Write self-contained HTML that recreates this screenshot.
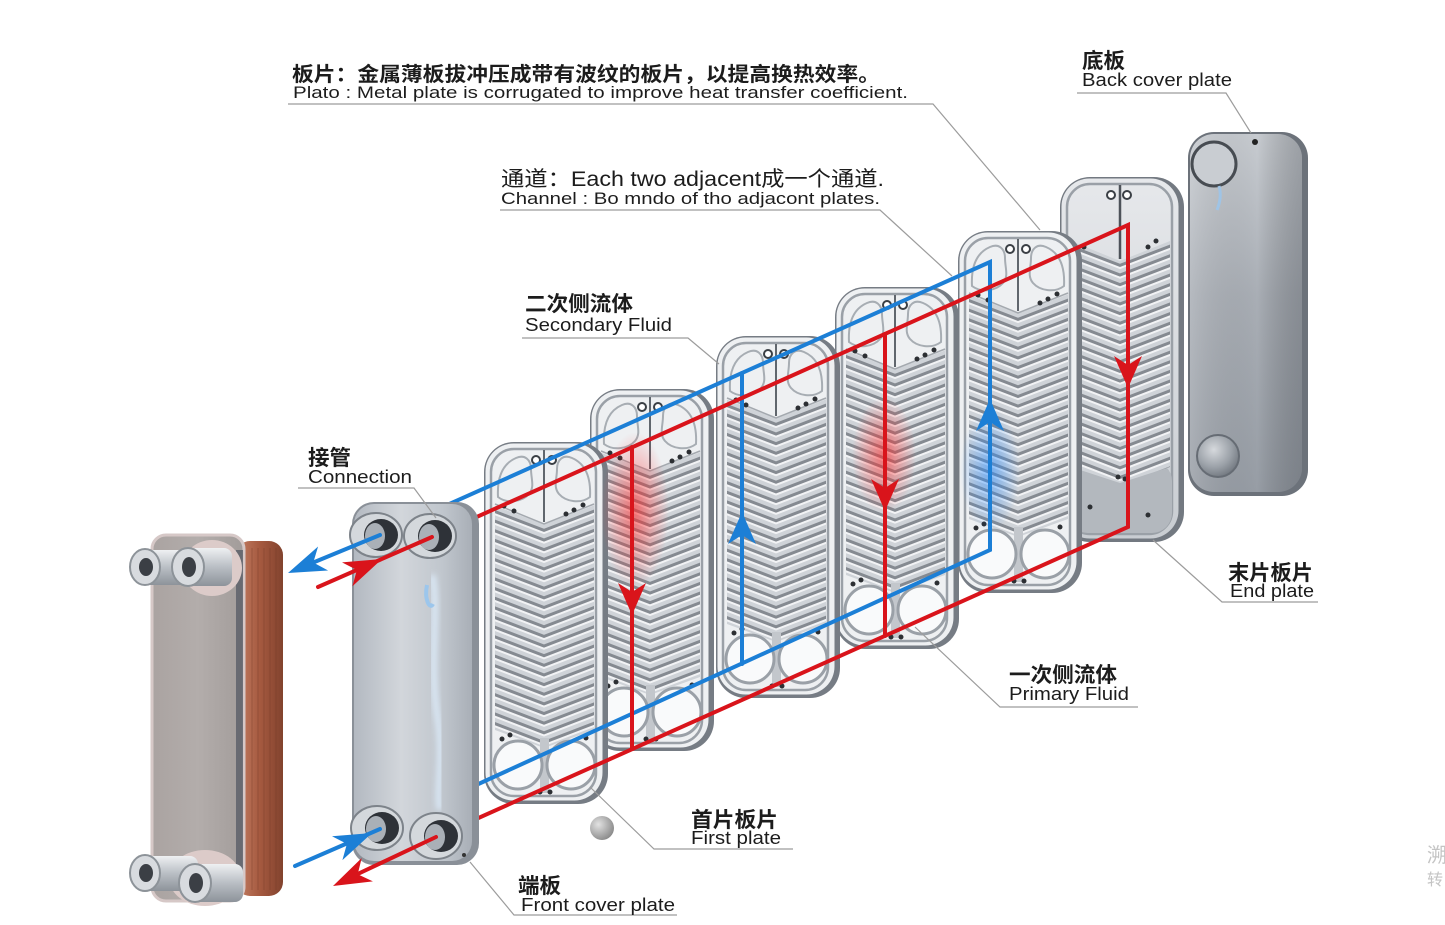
<!DOCTYPE html>
<html>
<head>
<meta charset="utf-8">
<style>
html,body{margin:0;padding:0;background:#fff;}
svg{display:block;}
text{font-family:"Liberation Sans","Noto Sans CJK SC",sans-serif;}
</style>
</head>
<body>
<svg width="1445" height="925" viewBox="0 0 1445 925" xmlns="http://www.w3.org/2000/svg">
<defs>
  <pattern id="chevL" patternUnits="userSpaceOnUse" width="40" height="9" patternTransform="rotate(21 60 0)">
    <rect width="40" height="9" fill="#cfd3d8"/>
    <rect y="0" width="40" height="3" fill="#858a91"/>
    <rect y="3" width="40" height="2" fill="#f2f3f5"/>
  </pattern>
  <pattern id="chevR" patternUnits="userSpaceOnUse" width="40" height="9" patternTransform="rotate(-21 60 0)">
    <rect width="40" height="9" fill="#cfd3d8"/>
    <rect y="0" width="40" height="3" fill="#858a91"/>
    <rect y="3" width="40" height="2" fill="#f2f3f5"/>
  </pattern>
  <clipPath id="chevClip" clipPathUnits="userSpaceOnUse">
    <polygon points="11,62 60,82 110,62 110,288 60,306 11,288"/>
  </clipPath>
  <clipPath id="chevClip6" clipPathUnits="userSpaceOnUse">
    <polygon points="11,64 60,84 110,64 110,290 60,306 11,290"/>
  </clipPath>
  <radialGradient id="redGlow">
    <stop offset="0" stop-color="#ff2a2a" stop-opacity="0.6"/>
    <stop offset="1" stop-color="#ff2a2a" stop-opacity="0"/>
  </radialGradient>
  <radialGradient id="blueGlow">
    <stop offset="0" stop-color="#2a8cff" stop-opacity="0.55"/>
    <stop offset="1" stop-color="#2a8cff" stop-opacity="0"/>
  </radialGradient>
  <linearGradient id="bcGrad" x1="0" y1="0" x2="0" y2="1">
    <stop offset="0" stop-color="#c7cbd0"/>
    <stop offset="0.45" stop-color="#a9aeb5"/>
    <stop offset="1" stop-color="#979da5"/>
  </linearGradient>
  <linearGradient id="bcShade" x1="0" y1="0" x2="1" y2="0">
    <stop offset="0" stop-color="#ffffff" stop-opacity="0.15"/>
    <stop offset="0.6" stop-color="#000000" stop-opacity="0"/>
    <stop offset="1" stop-color="#3a3f46" stop-opacity="0.3"/>
  </linearGradient>
  <radialGradient id="bossGrad" cx="0.4" cy="0.35" r="0.7">
    <stop offset="0" stop-color="#d6d9dd"/>
    <stop offset="0.6" stop-color="#9ba1a8"/>
    <stop offset="1" stop-color="#6e747c"/>
  </radialGradient>
  <linearGradient id="fcGrad" x1="0" y1="0" x2="1" y2="0">
    <stop offset="0" stop-color="#b3b9c1"/>
    <stop offset="0.4" stop-color="#d2d6db"/>
    <stop offset="0.75" stop-color="#c0c6cd"/>
    <stop offset="1" stop-color="#a9afb7"/>
  </linearGradient>
  <linearGradient id="brushLight" x1="0" y1="0" x2="0" y2="1">
    <stop offset="0" stop-color="#e6e8eb"/>
    <stop offset="1" stop-color="#c9cdd2"/>
  </linearGradient>
  <linearGradient id="faceG" x1="0" y1="0" x2="1" y2="0">
    <stop offset="0" stop-color="#aaa3a1"/>
    <stop offset="0.5" stop-color="#b3adab"/>
    <stop offset="1" stop-color="#a29c9a"/>
  </linearGradient>
  <linearGradient id="copper" x1="0" y1="0" x2="1" y2="0">
    <stop offset="0" stop-color="#c48066"/>
    <stop offset="0.5" stop-color="#a65a40"/>
    <stop offset="1" stop-color="#82432e"/>
  </linearGradient>
  <linearGradient id="pipeG" x1="0" y1="0" x2="0" y2="1">
    <stop offset="0" stop-color="#eef0f2"/>
    <stop offset="0.5" stop-color="#b9bec4"/>
    <stop offset="1" stop-color="#8d939a"/>
  </linearGradient>
  <radialGradient id="ballG" cx="0.35" cy="0.35" r="0.7">
    <stop offset="0" stop-color="#e2e2e2"/>
    <stop offset="1" stop-color="#8a8a8a"/>
  </radialGradient>
  <filter id="blur3"><feGaussianBlur stdDeviation="3"/></filter>

  <g id="plate">
    <rect x="0" y="0" width="124" height="362" rx="30" fill="#767c84"/>
    <rect x="1.5" y="1.5" width="117" height="357" rx="28" fill="#eef0f2"/>
    <rect x="7" y="7" width="105" height="347" rx="23" fill="none" stroke="#9aa0a7" stroke-width="2.5"/>
    <g clip-path="url(#chevClip)">
      <rect x="0" y="40" width="60" height="290" fill="url(#chevL)"/>
      <rect x="60" y="40" width="64" height="290" fill="url(#chevR)"/>
    </g>
    <path d="M11,62 L60,82 L110,62" fill="none" stroke="#a4a9af" stroke-width="1.5"/>
    <path d="M14,55 C13,36 18,22 32,16 C41,12 47,18 47,27 C47,37 51,45 45,52 C38,60 23,62 14,55 Z" fill="none" stroke="#a7adb3" stroke-width="2"/>
    <path d="M106,55 C107,36 102,22 88,16 C79,12 73,18 73,27 C73,37 69,45 75,52 C82,60 97,62 106,55 Z" fill="none" stroke="#a7adb3" stroke-width="2"/>
    <line x1="60" y1="8" x2="60" y2="80" stroke="#60666d" stroke-width="2"/>
    <circle cx="52" cy="18" r="4" fill="#fff" stroke="#3a3f45" stroke-width="2"/>
    <circle cx="68" cy="18" r="4" fill="#fff" stroke="#3a3f45" stroke-width="2"/>
    <circle cx="20" cy="64" r="2.5" fill="#2c2f33"/>
    <circle cx="30" cy="69" r="2.5" fill="#2c2f33"/>
    <circle cx="90" cy="68" r="2.5" fill="#2c2f33"/>
    <circle cx="99" cy="63" r="2.5" fill="#2c2f33"/>
    <circle cx="82" cy="72" r="2.5" fill="#2c2f33"/>
    <rect x="56" y="296" width="9" height="55" fill="#c3c7cc"/>
    <circle cx="34" cy="323" r="24" fill="#f9fafb" stroke="#9aa0a7" stroke-width="3"/>
    <circle cx="87" cy="323" r="24" fill="#f9fafb" stroke="#9aa0a7" stroke-width="3"/>
    <circle cx="18" cy="297" r="2.5" fill="#2c2f33"/>
    <circle cx="26" cy="293" r="2.5" fill="#2c2f33"/>
    <circle cx="102" cy="296" r="2.5" fill="#2c2f33"/>
    <circle cx="56" cy="350" r="2.5" fill="#2c2f33"/>
    <circle cx="66" cy="350" r="2.5" fill="#2c2f33"/>
  </g>
</defs>

<rect width="1445" height="925" fill="#ffffff"/>

<!-- Back cover plate -->
<rect x="1188" y="132" width="120" height="364" rx="26" fill="#6c727a"/>
<rect x="1190" y="134" width="112" height="358" rx="24" fill="url(#bcGrad)"/>
<rect x="1190" y="134" width="112" height="358" rx="24" fill="url(#bcShade)"/>
<circle cx="1214" cy="164" r="22" fill="#c9cdd2" stroke="#474c52" stroke-width="3"/>
<circle cx="1255" cy="142" r="3" fill="#222"/>
<path d="M1219,186 C1222,196 1219,205 1217,210" stroke="#9fc4e6" stroke-width="3" fill="none"/>
<circle cx="1218" cy="456" r="21" fill="url(#bossGrad)" stroke="#666c74" stroke-width="2"/>

<!-- End plate P6 -->
<g transform="translate(1060,177)">
  <rect x="0" y="0" width="124" height="365" rx="30" fill="#737981"/>
  <rect x="1.5" y="1.5" width="117" height="360" rx="28" fill="url(#brushLight)"/>
  <rect x="7" y="7" width="105" height="350" rx="23" fill="none" stroke="#9aa0a7" stroke-width="2.5"/>
  <rect x="8" y="284" width="104" height="72" rx="20" fill="#b3b8be"/>
  <g clip-path="url(#chevClip6)">
    <rect x="0" y="40" width="60" height="290" fill="url(#chevL)"/>
    <rect x="60" y="40" width="64" height="290" fill="url(#chevR)"/>
  </g>
  <line x1="60" y1="8" x2="60" y2="82" stroke="#4d5259" stroke-width="2.5"/>
  <circle cx="51" cy="18" r="4" fill="#fff" stroke="#3a3f45" stroke-width="2"/>
  <circle cx="67" cy="18" r="4" fill="#fff" stroke="#3a3f45" stroke-width="2"/>
  <circle cx="24" cy="70" r="2.5" fill="#2c2f33"/>
  <circle cx="96" cy="64" r="2.5" fill="#2c2f33"/>
  <circle cx="88" cy="70" r="2.5" fill="#2c2f33"/>
  <circle cx="58" cy="300" r="2.5" fill="#2c2f33"/>
  <circle cx="65" cy="302" r="2.5" fill="#2c2f33"/>
  <circle cx="30" cy="330" r="2.5" fill="#2c2f33"/>
  <circle cx="88" cy="338" r="2.5" fill="#2c2f33"/>
</g>

<!-- Plates P5..P1 -->
<use href="#plate" transform="translate(958,231)"/>
<use href="#plate" transform="translate(835,287)"/>
<use href="#plate" transform="translate(716,336)"/>
<use href="#plate" transform="translate(590,389)"/>
<use href="#plate" transform="translate(484,442)"/>

<!-- glows -->
<ellipse cx="635" cy="510" rx="34" ry="78" fill="url(#redGlow)"/>
<ellipse cx="884" cy="455" rx="32" ry="58" fill="url(#redGlow)"/>
<ellipse cx="990" cy="470" rx="30" ry="62" fill="url(#blueGlow)"/>

<!-- flow lines -->
<g stroke-width="4" stroke-linecap="round" fill="none">
  <polyline points="380,535 990,262 990,550 380,829" stroke="#1c7fd6"/>
  <line x1="742" y1="373" x2="742" y2="664" stroke="#1c7fd6"/>
  <polyline points="432,537 1128,225 1128,527 436,837" stroke="#d9141b"/>
  <line x1="632" y1="447" x2="632" y2="749" stroke="#d9141b"/>
  <line x1="885" y1="334" x2="885" y2="636" stroke="#d9141b"/>
</g>
<polygon points="632,615 618,583 632,592 646,583" fill="#d9141b"/>
<polygon points="742,512 728,544 742,535 756,544" fill="#1c7fd6"/>
<polygon points="885,511 871,479 885,488 899,479" fill="#d9141b"/>
<polygon points="990,399 976,431 990,422 1004,431" fill="#1c7fd6"/>
<polygon points="1128,388 1114,356 1128,365 1142,356" fill="#d9141b"/>

<!-- Front cover plate -->
<rect x="352" y="502" width="127" height="363" rx="22" fill="#8a9098"/>
<rect x="354" y="504" width="118" height="357" rx="20" fill="url(#fcGrad)"/>
<path d="M432,575 C440,610 428,660 438,720 C444,760 436,790 440,810" stroke="#dbe9f7" stroke-width="7" fill="none" filter="url(#blur3)" opacity="0.9"/>
<path d="M427,585 C424,600 430,610 433,604" stroke="#9cc6ec" stroke-width="4" fill="none"/>
<g>
  <ellipse cx="376" cy="535" rx="26" ry="22" fill="#d4d8dc" stroke="#7d838a" stroke-width="2"/>
  <ellipse cx="381" cy="535" rx="17" ry="16" fill="#2e3238"/>
  <ellipse cx="375" cy="536" rx="10" ry="13" fill="#aab0b7"/>
  <ellipse cx="430" cy="536" rx="26" ry="22" fill="#d4d8dc" stroke="#7d838a" stroke-width="2"/>
  <ellipse cx="435" cy="536" rx="17" ry="16" fill="#2e3238"/>
  <ellipse cx="429" cy="537" rx="10" ry="13" fill="#aab0b7"/>
  <ellipse cx="377" cy="828" rx="26" ry="22" fill="#d4d8dc" stroke="#7d838a" stroke-width="2"/>
  <ellipse cx="382" cy="828" rx="17" ry="16" fill="#2e3238"/>
  <ellipse cx="376" cy="829" rx="10" ry="13" fill="#aab0b7"/>
  <ellipse cx="436" cy="836" rx="26" ry="23" fill="#d4d8dc" stroke="#7d838a" stroke-width="2"/>
  <ellipse cx="441" cy="836" rx="17" ry="16" fill="#2e3238"/>
  <ellipse cx="435" cy="837" rx="10" ry="13" fill="#aab0b7"/>
</g>
<circle cx="464" cy="855" r="2" fill="#333"/>

<!-- connection arrows -->
<g stroke-width="4" stroke-linecap="round" fill="none">
  <line x1="380" y1="535" x2="300" y2="568" stroke="#1c7fd6"/>
  <line x1="432" y1="537" x2="318" y2="587" stroke="#d9141b"/>
  <line x1="380" y1="829" x2="295" y2="866" stroke="#1c7fd6"/>
  <line x1="436" y1="837" x2="345" y2="880" stroke="#d9141b"/>
</g>
<polygon points="288,573 318.1,546.5 313.3,562.5 328.1,570.5" fill="#1c7fd6"/>
<polygon points="382,559 352.4,586.2 356.9,570 342,562.4" fill="#d9141b"/>
<polygon points="372,833 342.4,860.1 346.9,843.9 332,836.3" fill="#1c7fd6"/>
<polygon points="333,886 361.7,858 357.7,874.2 372.9,881.4" fill="#d9141b"/>

<!-- Assembled unit -->
<rect x="236" y="541" width="47" height="355" rx="14" fill="url(#copper)"/>
<g stroke="#6f3624" stroke-width="1" opacity="0.35">
  <line x1="252" y1="548" x2="252" y2="890"/>
  <line x1="258" y1="548" x2="258" y2="890"/>
  <line x1="264" y1="548" x2="264" y2="890"/>
  <line x1="270" y1="548" x2="270" y2="890"/>
  <line x1="276" y1="548" x2="276" y2="890"/>
</g>
<rect x="152" y="535" width="92" height="366" rx="14" fill="url(#faceG)" stroke="#d6c8c7" stroke-width="3"/>
<rect x="236" y="550" width="7" height="340" fill="#4e5460" opacity="0.7"/>
<!-- top pipes -->
<ellipse cx="212" cy="568" rx="30" ry="28" fill="#dccbc9"/>
<rect x="143" y="550" width="52" height="35" rx="8" fill="url(#pipeG)"/>
<ellipse cx="145" cy="567" rx="15" ry="18" fill="#d8dbdf" stroke="#8d9399" stroke-width="2"/>
<ellipse cx="146" cy="567" rx="7" ry="9" fill="#3b3f45"/>
<rect x="187" y="548" width="45" height="38" rx="8" fill="url(#pipeG)"/>
<ellipse cx="188" cy="567" rx="16" ry="19" fill="#d8dbdf" stroke="#8d9399" stroke-width="2"/>
<ellipse cx="189" cy="567" rx="7" ry="10" fill="#3b3f45"/>
<!-- bottom pipes -->
<ellipse cx="205" cy="878" rx="36" ry="28" fill="#dccbc9"/>
<rect x="143" y="856" width="55" height="35" rx="8" fill="url(#pipeG)"/>
<ellipse cx="145" cy="873" rx="15" ry="18" fill="#d8dbdf" stroke="#8d9399" stroke-width="2"/>
<ellipse cx="146" cy="873" rx="7" ry="9" fill="#3b3f45"/>
<rect x="193" y="864" width="50" height="38" rx="8" fill="url(#pipeG)"/>
<ellipse cx="195" cy="883" rx="16" ry="19" fill="#d8dbdf" stroke="#8d9399" stroke-width="2"/>
<ellipse cx="196" cy="883" rx="7" ry="10" fill="#3b3f45"/>

<!-- ball -->
<circle cx="602" cy="828" r="12" fill="url(#ballG)"/>

<!-- leader lines -->
<g stroke="#9c9c9c" stroke-width="1.2" fill="none">
  <polyline points="288,104 933,104 1040,230"/>
  <polyline points="500,210 880,210 952,276"/>
  <polyline points="522,338 688,338 719,364"/>
  <polyline points="298,488 414,488 436,518"/>
  <polyline points="1077,93 1226,93 1251,133"/>
  <polyline points="1153,540 1222,602 1318,602"/>
  <polyline points="915,627 1000,707 1138,707"/>
  <polyline points="590,787 654,849 793,849"/>
  <polyline points="470,862 514,915 677,915"/>
</g>

<!-- labels -->
<g fill="#1c1c1c">
  <text x="292" y="81" font-size="20" font-weight="bold" textLength="588" lengthAdjust="spacingAndGlyphs">板片：金属薄板拔冲压成带有波纹的板片，以提高换热效率。</text>
  <text x="293" y="98" font-size="17" textLength="615" lengthAdjust="spacingAndGlyphs">Plato : Metal plate is corrugated to improve heat transfer coefficient.</text>

  <text x="501" y="186" font-size="21" textLength="383" lengthAdjust="spacingAndGlyphs">通道：Each two adjacent成一个通道.</text>
  <text x="501" y="204" font-size="17" textLength="379" lengthAdjust="spacingAndGlyphs">Channel : Bo mndo of tho adjacont plates.</text>

  <text x="525" y="311" font-size="21" font-weight="bold" textLength="108" lengthAdjust="spacingAndGlyphs">二次侧流体</text>
  <text x="525" y="331" font-size="18" textLength="147" lengthAdjust="spacingAndGlyphs">Secondary Fluid</text>

  <text x="308" y="465" font-size="21" font-weight="bold" textLength="43" lengthAdjust="spacingAndGlyphs">接管</text>
  <text x="308" y="483" font-size="18" textLength="104" lengthAdjust="spacingAndGlyphs">Connection</text>

  <text x="1082" y="68" font-size="21" font-weight="bold" textLength="43" lengthAdjust="spacingAndGlyphs">底板</text>
  <text x="1082" y="86" font-size="18" textLength="150" lengthAdjust="spacingAndGlyphs">Back cover plate</text>

  <text x="1228" y="580" font-size="21" font-weight="bold" textLength="85" lengthAdjust="spacingAndGlyphs">末片板片</text>
  <text x="1230" y="597" font-size="18" textLength="84" lengthAdjust="spacingAndGlyphs">End plate</text>

  <text x="1009" y="682" font-size="21" font-weight="bold" textLength="108" lengthAdjust="spacingAndGlyphs">一次侧流体</text>
  <text x="1009" y="700" font-size="18" textLength="120" lengthAdjust="spacingAndGlyphs">Primary Fluid</text>

  <text x="691" y="827" font-size="21" font-weight="bold" textLength="87" lengthAdjust="spacingAndGlyphs">首片板片</text>
  <text x="691" y="844" font-size="18" textLength="90" lengthAdjust="spacingAndGlyphs">First plate</text>

  <text x="518" y="893" font-size="21" font-weight="bold" textLength="43" lengthAdjust="spacingAndGlyphs">端板</text>
  <text x="521" y="911" font-size="18" textLength="154" lengthAdjust="spacingAndGlyphs">Front cover plate</text>
</g>

<!-- watermark -->
<text x="1427" y="862" font-size="20" fill="#c4c4c4">溯</text>
<text x="1427" y="885" font-size="16" fill="#c4c4c4">转</text>
</svg>
</body>
</html>
